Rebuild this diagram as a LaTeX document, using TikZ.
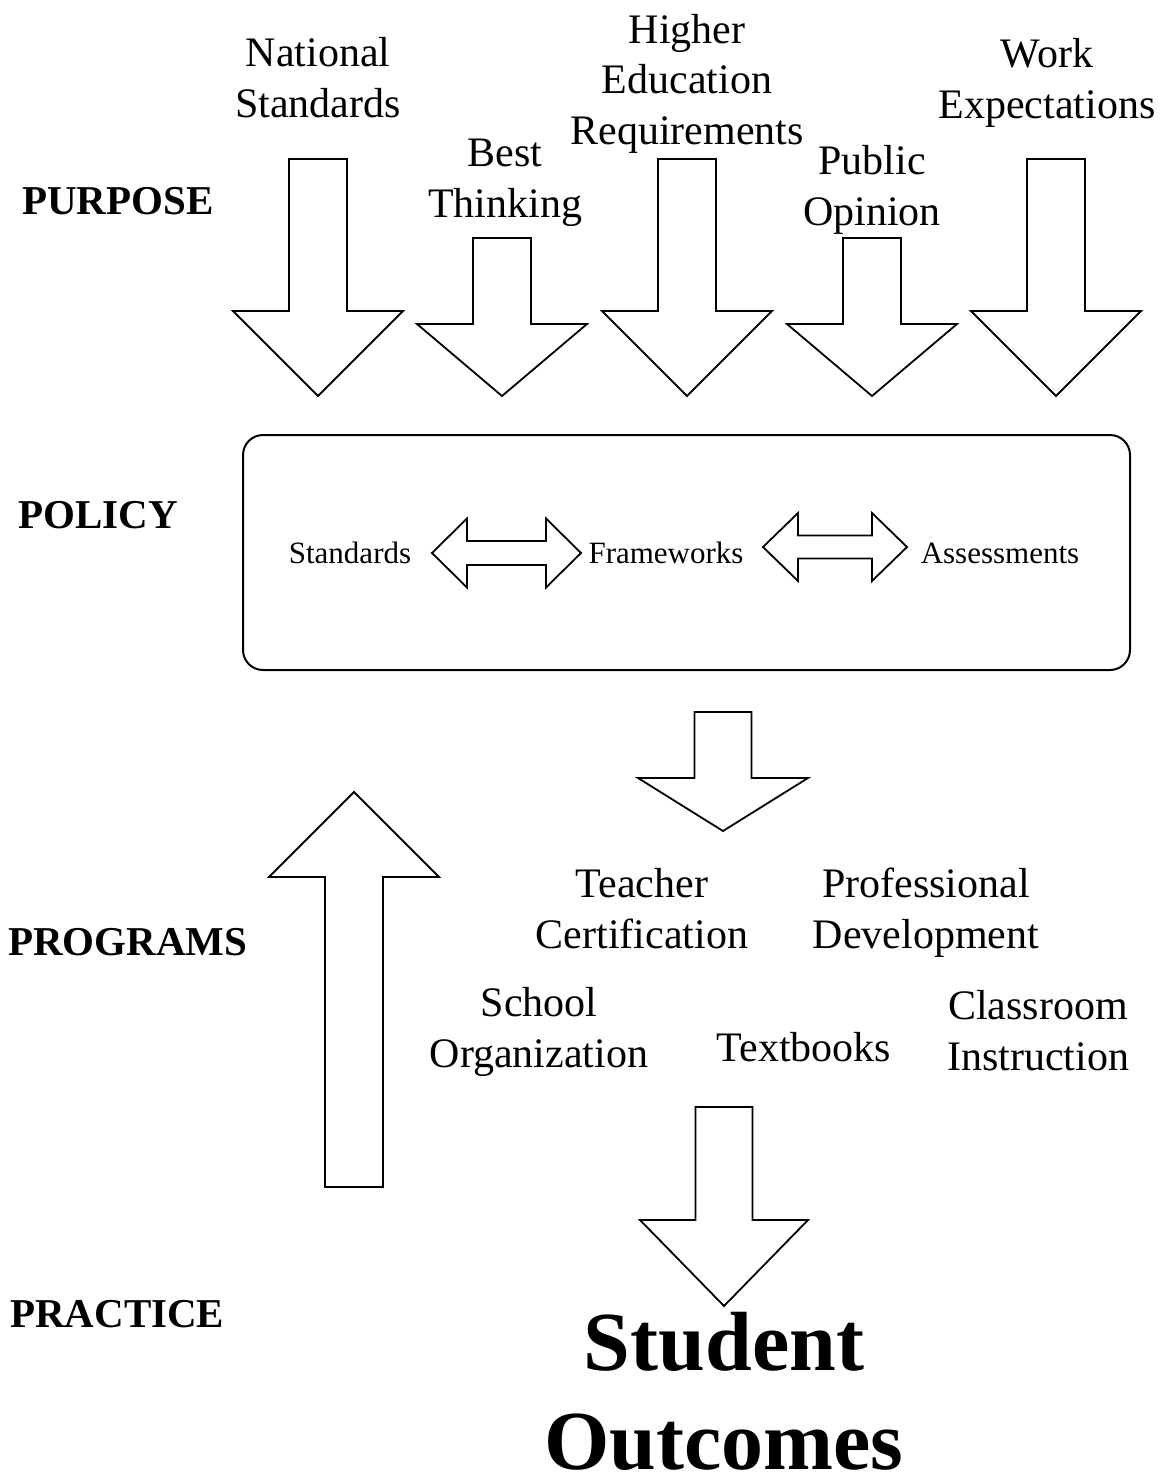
\documentclass[tikz,border=0pt]{standalone}
\usepackage{fontspec}
\setmainfont{Liberation Serif}
\usetikzlibrary{positioning}

\tikzset{
  blockline/.style={draw, line width=1.8pt, fill=white},
  lbl/.style={align=center, inner sep=0pt, anchor=base, font=\fontsize{42}{50.5}\selectfont},
  level/.style={inner sep=0pt, anchor=base west, font=\fontsize{41}{49}\selectfont\bfseries},
  boxtext/.style={inner sep=0pt, anchor=base, font=\fontsize{31}{37}\selectfont},
}

% centre x, tail y, neck y, tip y, half shaft, half head
\newcommand{\blockarrow}[6]{%
  \draw[blockline] (#1-#5,#2) -- (#1+#5,#2) -- (#1+#5,#3) -- (#1+#6,#3) -- (#1,#4)
    -- (#1-#6,#3) -- (#1-#5,#3) -- cycle;}
% left tip x, right tip x, centre y, head length, half shaft, half head
\newcommand{\dblarrow}[6]{%
  \draw[blockline] (#1,#3) -- (#1+#4,#3-#6) -- (#1+#4,#3-#5) -- (#2-#4,#3-#5) -- (#2-#4,#3-#6)
    -- (#2,#3) -- (#2-#4,#3+#6) -- (#2-#4,#3+#5) -- (#1+#4,#3+#5) -- (#1+#4,#3+#6) -- cycle;}

\begin{document}
\begin{tikzpicture}[x=1pt,y=-1pt]
 \useasboundingbox (0,0) rectangle (1167,1480);

 \node[level] (purpose) at (22,214) {PURPOSE};
 \node[level] (policy) at (18,528) {POLICY};
 \node[level] (programs) at (8,955) {PROGRAMS};
 \node[level] (practice) at (10,1327) {PRACTICE};

 \node[lbl] (natstd) at (318,117) {National\\Standards};
 \node[lbl] (bestthink) at (505,217) {Best\\Thinking};
 \node[lbl] (highered) at (687,144) {Higher\\Education\\Requirements};
 \node[lbl] (pubop) at (872,225) {Public\\Opinion};
 \node[lbl] (workexp) at (1047,118) {Work\\Expectations};

 \blockarrow{318}{159}{311}{396}{29}{85}
 \blockarrow{502}{238}{324}{396}{29}{85}
 \blockarrow{687}{159}{311}{396}{29}{85}
 \blockarrow{872}{238}{324}{396}{29}{85}
 \blockarrow{1056}{159}{311}{396}{29}{85}

 \node[draw, line width=2pt, rounded corners=20pt, minimum width=887pt, minimum height=235pt,
   inner sep=0pt] (policybox) at (686.5,552.5) {};
 \node[boxtext] (standards) at (350,563) {Standards};
 \node[boxtext] (frameworks) at (666,563) {Frameworks};
 \node[boxtext] (assessments) at (1000,563) {Assessments};
 \dblarrow{432}{581}{553}{35}{12}{34.5}
 \dblarrow{763}{907}{547}{35}{11.5}{34}

 \blockarrow{723}{712}{778}{831}{28.5}{85}
 \blockarrow{354}{1187}{877}{792}{29}{85}

 \node[lbl] (teachcert) at (642,948) {Teacher\\Certification};
 \node[lbl] (profdev) at (926,948) {Professional\\Development};
 \node[lbl] (schoolorg) at (539,1067) {School\\Organization};
 \node[lbl] (textbooks) at (804,1061) {Textbooks};
 \node[lbl] (classinst) at (1038,1070) {Classroom\\Instruction};

 \blockarrow{724}{1107}{1220}{1306}{28.5}{84}

 \node[lbl, font=\fontsize{84}{99}\selectfont\bfseries] (outcomes) at (724,1469) {Student\\Outcomes};
\end{tikzpicture}
\end{document}
